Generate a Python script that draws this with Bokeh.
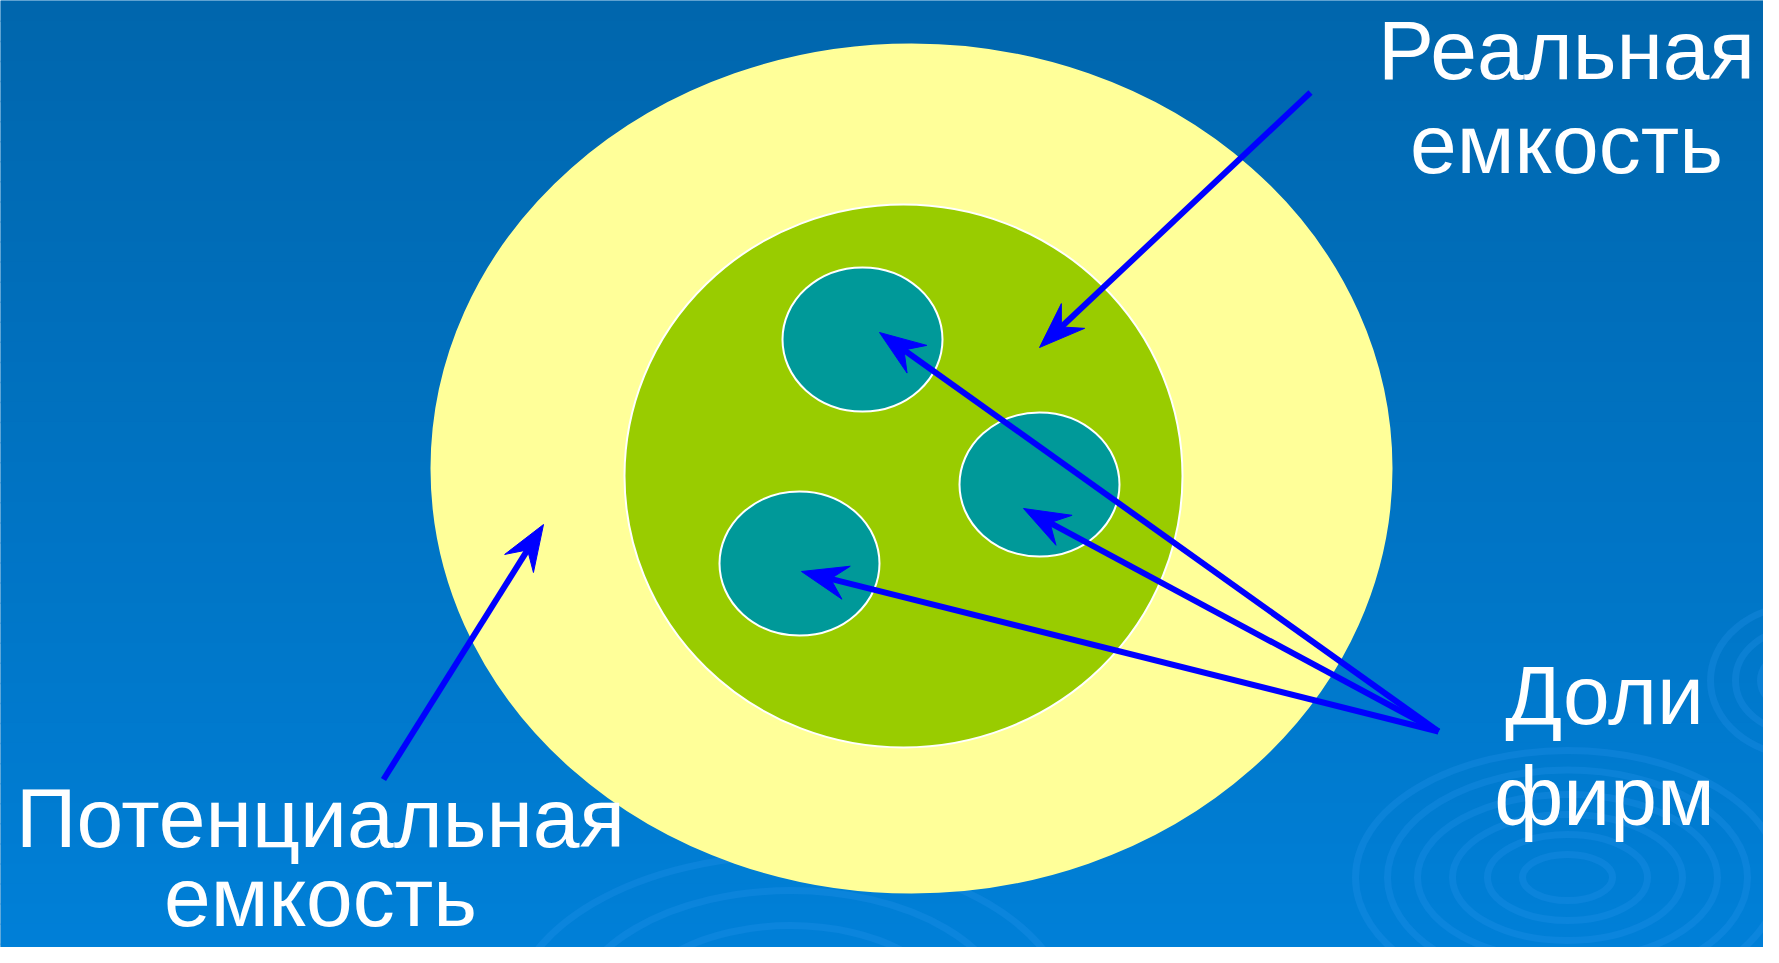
import numpy as np
from bokeh.plotting import figure
from bokeh.models import Range1d
from bokeh.core.properties import value
from bokeh.embed import file_html
from bokeh.resources import INLINE

# ---- data (reference picture coordinates, y grows downward) ----
area_names = ["Потенциальная емкость", "Реальная емкость"]
area_x = [911, 903]
area_y = [468, 475.5]
area_w = [960, 558]
area_h = [848, 543]
area_fill = ["#FFFF99", "#99CC00"]
area_line = ["#FFFF99", "#FFFFFF"]

firm_x = [862, 1039, 799]
firm_y = [339, 484, 563]
firm_w = [160, 160, 160]
firm_h = [144, 144, 144]

arrow_x0 = [1310, 383, 1438, 1438, 1438]
arrow_y0 = [92, 779, 731, 731, 731]
arrow_x1 = [1039, 543, 879, 1023, 801]
arrow_y1 = [347, 524, 332, 508, 571]

label_text = ["Реальная", "емкость", "Доли", "фирм", "Потенциальная", "емкость"]
label_x = [1566, 1566, 1604, 1604, 320, 320]
label_y = [82, 176, 727, 828, 850, 929]

ripple_x = [1567, 1567, 1567, 1567, 1567, 1567, 790, 790, 790, 790, 1800, 1800, 1800]
ripple_y = [877, 877, 877, 877, 877, 877, 1020, 1020, 1020, 1020, 680, 680, 680]
ripple_w = [424, 360, 300, 230, 160, 90, 560, 440, 330, 220, 180, 130, 80]
ripple_h = [254, 215, 166, 126, 86, 46, 330, 260, 190, 130, 150, 105, 60]

bg_top = (0, 102, 173)
bg_bottom = (0, 128, 216)

# ---- figure ----
p = figure(width=1763, height=947, x_range=Range1d(0, 1763), y_range=Range1d(947, 0),
           output_backend="svg", toolbar_location=None, min_border=0)
p.axis.visible = False
p.grid.visible = False
p.outline_line_color = None
p.background_fill_color = "#0070BE"
p.border_fill_color = "#0070BE"

# background gradient bands
n_bands = 48
edges = np.linspace(0, 963, n_bands + 1)
mids = (edges[:-1] + edges[1:]) / 2 / 963
band_colors = ["#%02x%02x%02x" % tuple(int(round(a + (b - a) * t)) for a, b in zip(bg_top, bg_bottom))
               for t in mids]
p.quad(left=0, right=1779, top=edges[:-1], bottom=edges[1:] + 1.5,
       fill_color=band_colors, line_color=None)

# faint ripples
p.ellipse(x=ripple_x, y=ripple_y, width=ripple_w, height=ripple_h,
          fill_color=None, line_color="#2A98EE", line_alpha=0.25, line_width=7)

# market areas
p.ellipse(x=area_x, y=area_y, width=area_w, height=area_h,
          fill_color=area_fill, line_color=area_line, line_width=2)

# firm shares
p.ellipse(x=firm_x, y=firm_y, width=firm_w, height=firm_h,
          fill_color="#009999", line_color="white", line_width=2)

# arrows
L, W, N = 46, 17, 30
sx, sy, ex, ey, hx, hy = [], [], [], [], [], []
for x0, y0, x1, y1 in zip(arrow_x0, arrow_y0, arrow_x1, arrow_y1):
    d = np.array([x1 - x0, y1 - y0], dtype=float)
    d /= np.hypot(*d)
    nrm = np.array([-d[1], d[0]])
    tip = np.array([x1, y1], dtype=float)
    b1 = tip - L * d + W * nrm
    b2 = tip - L * d - W * nrm
    notch = tip - N * d
    end = tip - (N - 3) * d
    sx.append(x0); sy.append(y0); ex.append(end[0]); ey.append(end[1])
    hx.append([tip[0], b1[0], notch[0], b2[0]])
    hy.append([tip[1], b1[1], notch[1], b2[1]])

p.segment(x0=sx, y0=sy, x1=ex, y1=ey, line_color="#0000FF", line_width=6)
p.patches(xs=hx, ys=hy, fill_color="#0000FF", line_color="#0000FF", line_width=1)

# labels
p.text(x=label_x, y=label_y, text=label_text, text_color="white",
       text_font=value("Liberation Sans"), text_font_size="84px",
       text_align="center", text_baseline="alphabetic", y_offset=-33)

open("out.html", "w").write(file_html(p, INLINE))
